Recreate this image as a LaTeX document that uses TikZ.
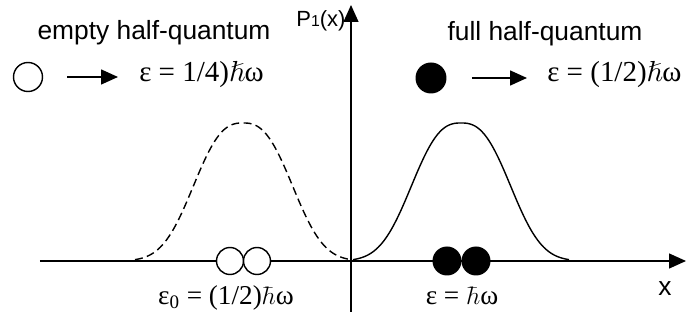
\documentclass[tikz,border=0pt]{standalone}
\usepackage{amsmath}
\usepackage{amssymb}
\usepackage{fontspec}
\newfontfamily\labelfont{Liberation Sans}
\newfontfamily\eqfont{Liberation Serif}
\usetikzlibrary{positioning, calc, arrows.meta}

\begin{document}
\begin{tikzpicture}[
    x=0.02cm, y=0.02cm,
    >={Triangle[length=0.34cm, width=0.3cm]},
    axis/.style={->, line width=0.8pt},
    ptr/.style={->, line width=0.9pt},
    curve/.style={line width=0.8pt, domain=-108:108, samples=120, smooth},
    hole/.style={circle, draw, line width=0.8pt, fill=white, inner sep=0pt, minimum size=0.54cm},
    pair/.style={circle, fill=black, inner sep=0pt, minimum size=0.58cm},
    hdr/.style={font=\labelfont\fontsize{15pt}{17pt}\selectfont, anchor=base},
    eq/.style={font=\eqfont\fontsize{16.5pt}{18pt}\selectfont, inner sep=0pt},
    eqlow/.style={eq, font=\eqfont\fontsize{15.5pt}{17pt}\selectfont, anchor=base},
    axlbl/.style={font=\labelfont\fontsize{12.5pt}{14pt}\selectfont},
]
\useasboundingbox (-351,-59) rectangle (335,261);

% ─── Axes ───
\coordinate (xstart) at (-311,0);
\coordinate (xend) at (335,0);
\coordinate (ystart) at (0,-51);
\coordinate (yend) at (0,256);
\draw[axis] (xstart) -- (xend);
\draw[axis] (ystart) -- (yend);
\node[axlbl] (plabel) at (-30,240) {P{\fontsize{9pt}{10pt}\selectfont 1}(x)};
\node[axlbl, font=\labelfont\fontsize{15pt}{17pt}\selectfont] (xlabel) at (314,-28) {x};

% ─── Wave packets ───
\draw[curve, dashed, dash pattern=on 4.5pt off 2.5pt] plot ({-108+\x}, {138*exp(-(abs(\x)/60)^2.6)});
\draw[curve] plot ({110+\x}, {138*exp(-(abs(\x)/60)^2.6)});

% ─── Particles on the axis ───
\node[hole] (holeA) at (-121,0) {};
\node[hole] (holeB) at (-94,0) {};
\node[pair] (fullA) at (96,0) {};
\node[pair] (fullB) at (125,0) {};

\node[eqlow] (epszero) at (-125,-44) {ε\textsubscript{0} = (1/2)$\hbar$ω};
\node[eqlow] (epsfull) at (111,-44) {ε = $\hbar$ω};

% ─── Legend ───
\node[hdr] (emptyhdr) at (-197,221) {empty half-quantum};
\node[hdr] (fullhdr) at (194,220) {full half-quantum};

\node[hole, minimum size=0.58cm] (emptydot) at (-323,184) {};
\node[pair, minimum size=0.62cm] (fulldot) at (80,183) {};

\node[eq, anchor=base west] (epsempty) at (-212,179) {ε = 1/4)$\hslash$ω};
\node[eq, anchor=base west] (epshalf) at (196,179) {ε = (1/2)$\hslash$ω};

\coordinate (emptytip) at (-233,184);
\coordinate (fulltip) at (176,183);
\draw[ptr] ([xshift=0.48cm]emptydot.east) -- (emptytip);
\draw[ptr] ([xshift=0.5cm]fulldot.east) -- (fulltip);

\end{tikzpicture}
\end{document}
